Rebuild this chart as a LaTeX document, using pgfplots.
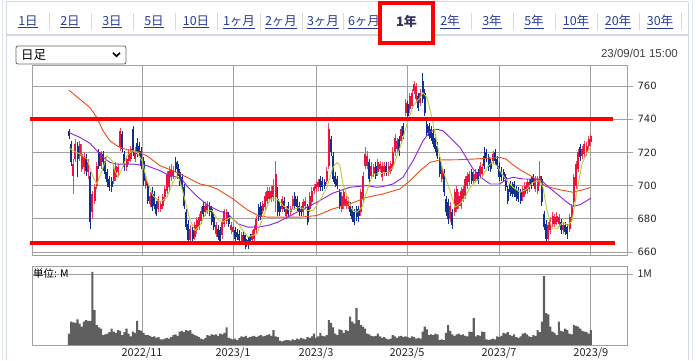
\documentclass[border=0pt]{standalone}
\usepackage{fontspec}
\setmainfont{Noto Sans CJK JP}
\newfontfamily\numfont{DejaVu Sans}
\newfontfamily\datefont{Liberation Sans}
\usepackage{pgfplots}
\usepackage{pgfplotstable}
\pgfplotsset{compat=1.18}
\definecolor{upc}{RGB}{232,22,62}
\definecolor{dnc}{RGB}{15,48,145}
\definecolor{maA}{RGB}{185,205,55}
\definecolor{maB}{RGB}{150,30,220}
\definecolor{maC}{RGB}{240,75,20}
\definecolor{gridc}{RGB}{160,160,160}
\definecolor{tabc}{RGB}{40,60,150}
\definecolor{volc}{RGB}{95,95,95}
\definecolor{panelc}{RGB}{210,216,228}

\pgfplotstableread{
i o h l c
0 733 734 728 730
1 725 727 712 714
2 706 716 695 713
3 716 728 714 725
4 724 726 705 716
5 718 727 715 725
6 710 725 708 719
7 711 720 707 718
8 717 719 706 709
9 708 716 704 714
10 706 708 674 678
11 684 697 680 695
12 691 701 689 699
13 700 714 698 712
14 720 722 710 712
15 712 721 710 720
16 719 721 709 714
17 715 717 704 707
18 708 710 699 702
19 704 706 697 699
20 703 705 696 699
21 703 712 701 710
22 705 714 703 712
23 708 713 706 711
24 723 735 721 733
25 731 733 720 722
26 719 721 709 711
27 711 718 709 716
28 715 722 713 720
29 716 724 714 722
30 734 736 718 720
31 716 723 714 721
32 726 729 717 719
33 724 726 718 720
34 721 723 710 712
35 715 717 700 703
36 700 706 698 704
37 700 702 689 691
38 689 696 687 694
39 697 699 685 687
40 695 697 686 688
41 689 691 682 683
42 686 694 684 692
43 686 691 684 689
44 688 695 686 693
45 693 700 691 698
46 697 709 695 707
47 699 712 697 709
48 705 713 703 710
49 706 712 704 709
50 714 717 708 710
51 713 715 704 706
52 708 710 700 702
53 705 707 697 699
54 699 701 686 688
55 684 686 673 675
56 677 679 665 667
57 667 676 665 674
58 673 675 666 668
59 669 678 667 676
60 673 681 671 679
61 675 683 673 681
62 679 687 677 685
63 688 691 681 683
64 684 690 682 688
65 685 691 683 689
66 688 690 682 684
67 686 688 676 678
68 681 683 673 675
69 671 678 669 676
70 674 676 667 669
71 673 675 664 666
72 670 680 668 678
73 677 686 675 685
74 679 686 677 684
75 682 684 675 677
76 673 678 671 676
77 672 677 670 675
78 673 675 666 668
79 672 674 667 669
80 671 673 665 667
81 666 672 664 670
82 670 672 664 666
83 668 670 662 663
84 667 669 662 664
85 669 671 664 666
86 667 673 665 671
87 668 676 666 674
88 673 682 671 680
89 687 689 679 681
90 688 690 679 681
91 685 691 683 689
92 687 696 685 694
93 691 699 689 697
94 692 699 690 697
95 692 700 690 697
96 693 704 691 700
97 693 715 684 707
98 692 699 682 684
99 688 690 682 684
100 686 694 684 692
101 691 693 684 686
102 682 688 680 686
103 688 690 681 683
104 684 688 682 686
105 688 694 686 692
106 694 696 686 688
107 692 694 685 687
108 688 690 682 684
109 686 688 682 684
110 684 692 682 690
111 688 693 686 691
112 687 689 676 678
113 686 696 684 694
114 690 699 688 697
115 697 701 695 699
116 698 703 696 701
117 699 704 697 702
118 704 706 697 699
119 703 705 697 699
120 702 704 698 700
121 703 711 701 709
122 712 738 710 734
123 728 730 718 720
124 718 720 702 704
125 706 708 699 701
126 704 706 698 700
127 696 698 686 688
128 686 696 684 694
129 688 698 686 696
130 688 694 686 692
131 688 693 686 691
132 688 690 682 684
133 686 688 678 680
134 684 686 676 678
135 686 688 679 681
136 686 688 678 682
137 684 698 682 696
138 692 708 690 706
139 712 723 710 719
140 712 721 710 718
141 714 716 702 704
142 706 714 704 712
143 707 713 705 711
144 712 714 704 706
145 708 716 706 714
146 710 715 708 713
147 705 714 703 712
148 708 714 706 712
149 712 714 706 708
150 708 714 706 712
151 709 715 707 713
152 712 723 710 720
153 720 731 718 729
154 722 729 720 727
155 728 730 718 720
156 727 736 725 734
157 736 738 728 730
158 744 752 742 750
159 749 751 740 742
160 746 756 744 754
161 748 758 746 756
162 757 763 755 761
163 752 762 750 760
164 754 756 745 747
165 750 758 748 756
166 763 768 750 752
167 756 758 742 744
168 737 739 730 732
169 736 738 728 730
170 734 736 727 729
171 732 734 723 725
172 729 731 720 722
173 724 726 716 718
174 715 717 705 707
175 704 712 702 710
176 708 710 694 696
177 692 694 682 684
178 690 692 677 680
179 680 690 678 688
180 684 686 674 676
181 684 698 682 696
182 686 700 684 698
183 688 696 686 694
184 688 699 686 697
185 692 700 690 698
186 694 706 692 704
187 700 708 698 706
188 702 709 700 707
189 708 710 701 703
190 703 709 701 707
191 704 710 702 708
192 708 710 701 703
193 706 714 704 712
194 707 713 705 711
195 718 723 710 712
196 720 722 714 716
197 717 719 709 711
198 714 716 708 710
199 715 721 713 719
200 720 722 713 715
201 716 718 710 712
202 712 714 703 705
203 709 711 703 705
204 708 710 702 704
205 705 707 697 699
206 698 700 689 691
207 701 703 694 696
208 700 702 693 695
209 701 703 693 695
210 698 700 691 693
211 697 699 690 692
212 696 698 689 691
213 693 700 691 698
214 695 702 693 700
215 697 704 695 702
216 698 704 696 702
217 704 706 698 700
218 705 707 700 702
219 698 706 696 704
220 697 706 695 704
221 702 715 700 706
222 704 706 688 690
223 683 685 673 675
224 677 679 665 668
225 668 678 666 676
226 673 681 671 679
227 677 684 675 682
228 677 683 675 681
229 678 684 676 682
230 677 683 675 681
231 678 680 671 673
232 673 678 671 676
233 676 678 670 672
234 675 677 668 671
235 674 683 672 681
236 681 689 679 687
237 690 707 688 705
238 700 715 698 713
239 710 722 708 720
240 723 725 715 717
241 718 724 716 722
242 719 727 717 725
243 720 726 718 724
244 724 730 722 728
245 726 731 724 730
}\candles

\pgfplotstableread{
i v
0 757.5
5.2 752
9.9 747
13.1 741
16.0 733
19.2 727
23.0 723.6
27.2 721.6
31.9 720.6
36.6 718
42.7 712
48.8 709
55.4 705
61.5 701
65.3 700
69.5 698
71.4 696.5
77.0 692
83.6 685.5
88.7 682
93.4 681
100.5 681
108.5 681
116.4 682
123.9 686
131.9 689
139.9 693
147.4 695
155.4 698
160.1 703
164.8 709
169.5 714
174.2 715.5
182.2 715.6
189.7 716
197.7 716.6
202.3 717
205.2 716
208.0 713
211.3 710
219.2 704
224.0 699.5
230.5 697.5
236.6 696
241.3 697.5
245 699
}\maslow

\pgfplotstableread{
i v
0 732
5.2 729
9.9 725.5
13.1 721
16.0 717
19.2 714
22.5 713
30.0 713
36.6 712
42.7 709
46.5 706.5
52.6 704.5
55.9 699
60.6 693
65.3 688
70.0 685
74.6 683
79.3 677
84.0 675
88.7 675
93.4 676
98.1 678
100.5 679.6
108.5 685
116.4 690
123.9 695.5
131.9 699
139.9 700
144.6 699
147.4 699.5
152.1 701
156.8 705
161.5 715
166.2 727
169.5 732.5
172.8 734
175.6 733
178.9 729
183.6 723
186.9 716
189.7 710
194.4 704
197.7 701
202.3 701
205.6 704
208.5 705
213.1 704
217.8 704
221.1 704
224.4 700
229.1 695
233.8 690
236.6 687.5
239.9 688.5
243.2 691
245 692.5
}\mamid

\pgfplotstableread{
i v
0 723
1.9 721
5.2 719
8.5 716
11.3 705
13.1 701
15.5 709
17.8 718
20.2 715
21.6 709
23.0 705
24.9 710
27.2 718
29.6 721
31.9 720
34.3 715
36.6 703
39.4 694
42.7 690
46.0 693
48.8 702
50.7 706
52.1 703
54.5 691
56.8 679
59.2 673
61.5 676
64.8 685
67.1 685
69.5 680
72.3 678
75.6 681
78.9 678
81.7 673
84.0 669
86.4 670
88.3 671
91.1 681
94.4 692
97.7 692
100.5 688
103.8 685
108.5 687
111.7 685
114.6 685
117.8 691
121.1 699
123.9 711
125.8 714
127.2 712
128.6 701
131.9 689
133.3 685
135.2 684
137.6 687
139.9 697
142.7 707
146.0 707
149.3 708
152.1 711
155.4 723
158.7 737
161.5 748
164.8 753
166.2 756
168.1 753
170.4 741
172.8 725
175.6 709
178.9 697
181.2 687
183.6 689
185.9 693
188.3 699
191.5 703
193.9 705
196.2 711
198.6 714
200.9 712
203.3 707
205.6 703
208.5 699
211.7 696
215.0 698
217.8 702
221.1 703
222.5 699
224.4 685
226.8 674
229.1 674
231.9 678
234.3 676
236.2 679
238.5 697
240.8 713
243.2 720
245 723
}\mafast

\pgfplotstableread{
i v
0 0.16
1 0.33
2 0.32
3 0.31
4 0.36
5 0.30
6 0.26
7 0.33
8 0.35
9 0.34
10 0.34
11 1.03
12 0.49
13 0.28
14 0.25
15 0.23
16 0.14
17 0.15
18 0.16
19 0.18
20 0.23
21 0.19
22 0.17
23 0.21
24 0.20
25 0.14
26 0.18
27 0.23
28 0.16
29 0.12
30 0.19
31 0.17
32 0.34
33 0.21
34 0.20
35 0.17
36 0.14
37 0.14
38 0.13
39 0.11
40 0.12
41 0.10
42 0.11
43 0.08
44 0.08
45 0.09
46 0.10
47 0.09
48 0.11
49 0.14
50 0.15
51 0.13
52 0.19
53 0.20
54 0.18
55 0.21
56 0.20
57 0.21
58 0.16
59 0.14
60 0.13
61 0.11
62 0.09
63 0.08
64 0.10
65 0.14
66 0.13
67 0.15
68 0.14
69 0.15
70 0.13
71 0.16
72 0.15
73 0.17
74 0.25
75 0.10
76 0.09
77 0.08
78 0.09
79 0.07
80 0.10
81 0.12
82 0.11
83 0.13
84 0.10
85 0.11
86 0.12
87 0.13
88 0.11
89 0.13
90 0.14
91 0.12
92 0.13
93 0.14
94 0.15
95 0.13
96 0.21
97 0.12
98 0.11
99 0.06
100 0.05
101 0.06
102 0.07
103 0.07
104 0.06
105 0.08
106 0.07
107 0.09
108 0.08
109 0.10
110 0.09
111 0.08
112 0.11
113 0.10
114 0.12
115 0.16
116 0.10
117 0.12
118 0.17
119 0.13
120 0.12
121 0.14
122 0.35
123 0.31
124 0.25
125 0.16
126 0.14
127 0.22
128 0.21
129 0.17
130 0.21
131 0.20
132 0.40
133 0.33
134 0.30
135 0.52
136 0.35
137 0.28
138 0.26
139 0.23
140 0.16
141 0.15
142 0.13
143 0.12
144 0.13
145 0.16
146 0.12
147 0.10
148 0.11
149 0.09
150 0.08
151 0.09
152 0.14
153 0.12
154 0.10
155 0.12
156 0.13
157 0.11
158 0.12
159 0.11
160 0.10
161 0.12
162 0.11
163 0.09
164 0.10
165 0.09
166 0.19
167 0.26
168 0.22
169 0.14
170 0.15
171 0.14
172 0.16
173 0.15
174 0.07
175 0.08
176 0.07
177 0.17
178 0.28
179 0.20
180 0.15
181 0.13
182 0.15
183 0.16
184 0.14
185 0.15
186 0.13
187 0.12
188 0.19
189 0.18
190 0.38
191 0.12
192 0.14
193 0.13
194 0.19
195 0.18
196 0.08
197 0.07
198 0.08
199 0.09
200 0.08
201 0.12
202 0.11
203 0.13
204 0.17
205 0.16
206 0.18
207 0.14
208 0.13
209 0.15
210 0.11
211 0.10
212 0.12
213 0.16
214 0.17
215 0.15
216 0.12
217 0.11
218 0.14
219 0.13
220 0.21
221 0.18
222 0.33
223 0.97
224 0.45
225 0.43
226 0.26
227 0.19
228 0.17
229 0.14
230 0.33
231 0.20
232 0.19
233 0.23
234 0.21
235 0.16
236 0.15
237 0.28
238 0.27
239 0.26
240 0.23
241 0.20
242 0.19
243 0.18
244 0.16
245 0.21
}\volume

\begin{document}
\begin{tikzpicture}[x=1pt,y=1pt]
\useasboundingbox (0,0) rectangle (698,360);
\fill[white] (0,0) rectangle (698,360);
% outer frame
\draw[panelc!70, line width=1pt] (2.5,0) -- (2.5,360);
\draw[panelc!70, line width=1pt] (692.5,0) -- (692.5,360);
% tab bar
\draw[panelc, line width=0.8pt] (6,358.5) -- (688,358.5);
\draw[panelc, line width=1pt] (6,0) -- (6,358.5);
\draw[panelc, line width=1pt] (688.5,0) -- (688.5,358.5);
\draw[panelc, line width=1.2pt] (6,325) -- (688.5,325);
\foreach \sx in {49,91,133,175,217.5,260,302,343.5,471,513,555,597,639,681}
  \draw[gray!30, line width=0.8pt] (\sx,330) -- (\sx,347);
\foreach \tx/\tl in {28/1日,70/2日,112/3日,154/5日,196/10日,239/1ヶ月,281/2ヶ月,323/3ヶ月,364/6ヶ月,450/2年,492/3年,534/5年,576/10年,618/20年,660/30年}
  \node[text=tabc, font=\fontsize{12.5}{14}\selectfont, inner sep=0pt] at (\tx,338) {\underline{\tl}};
\fill[white] (381,318) rectangle (432,356);
\node[text={rgb,255:red,50;green,50;blue,90}, font=\bfseries\fontsize{13}{15}\selectfont, inner sep=0pt] at (406.5,338.5) {1年};
\draw[red, line width=3.5pt] (380,317) rectangle (433,357);
% dropdown
\draw[rounded corners=2pt, black!60, line width=0.8pt] (16,296) rectangle (126,314);
\node[anchor=west, font=\fontsize{12.5}{14}\selectfont, inner sep=0pt] at (21,305) {日足};
\draw[line width=1.6pt] (113,307.2) -- (116.5,303.7) -- (120,307.2);
% timestamp
\node[anchor=east, font=\datefont\fontsize{11.5}{13}\selectfont, text=black!75, inner sep=0pt] at (678,307) {23/09/01 15:00};

% price chart
\begin{axis}[
  at={(32pt,105pt)}, anchor=south west,
  scale only axis, width=595pt, height=190pt,
  xmin=-17.37, xmax=261.97, ymin=658.2, ymax=772.7,
  axis line style={gridc, line width=0.8pt},
  xtick={34.3,77,116,158.7,201.9,245}, xticklabels={},
  xtick style={draw=none},
  xmajorgrids, ymajorgrids,
  grid style={gridc, line width=0.8pt},
  ytick={660,680,700,720,740,760},
  ytick pos=right, yticklabel pos=right,
  ytick style={gridc, line width=0.8pt},
  major tick length=6pt, tick align=outside,
  y tick label style={font=\numfont\fontsize{10}{12}\selectfont, text=black!85, xshift=1pt},
  /pgf/number format/assume math mode=true,
  clip=false,
]
% wicks
\addplot[draw=none, mark=none, restrict expr to domain={\thisrow{c}-\thisrow{o}}{0:1000},
  error bars/.cd, y dir=both, y explicit, error mark=none,
  error bar style={draw=upc!80, line width=0.75pt}]
  table[x=i, y expr={(\thisrow{h}+\thisrow{l})/2}, y error expr={(\thisrow{h}-\thisrow{l})/2}] \candles;
\addplot[draw=none, mark=none, restrict expr to domain={\thisrow{o}-\thisrow{c}}{0.001:1000},
  error bars/.cd, y dir=both, y explicit, error mark=none,
  error bar style={draw=dnc, line width=0.75pt}]
  table[x=i, y expr={(\thisrow{h}+\thisrow{l})/2}, y error expr={(\thisrow{h}-\thisrow{l})/2}] \candles;
% bodies
\addplot[draw=none, mark=none, restrict expr to domain={\thisrow{c}-\thisrow{o}}{0:1000},
  error bars/.cd, y dir=both, y explicit, error mark=none,
  error bar style={draw=upc, line width=2pt, line cap=butt}]
  table[x=i, y expr={(\thisrow{o}+\thisrow{c})/2}, y error expr={max(abs(\thisrow{c}-\thisrow{o})/2,0.4)}] \candles;
\addplot[draw=none, mark=none, restrict expr to domain={\thisrow{o}-\thisrow{c}}{0.001:1000},
  error bars/.cd, y dir=both, y explicit, error mark=none,
  error bar style={draw=dnc, line width=2pt, line cap=butt}]
  table[x=i, y expr={(\thisrow{o}+\thisrow{c})/2}, y error expr={max(abs(\thisrow{c}-\thisrow{o})/2,0.4)}] \candles;
% moving averages
\addplot[maC, line width=0.9pt, mark=none] table[x=i, y=v] \maslow;
\addplot[maB, line width=0.9pt, mark=none] table[x=i, y=v] \mamid;
\addplot[maA, line width=0.9pt, mark=none] table[x=i, y=v] \mafast;
% support / resistance lines
\addplot[red, line width=3.8pt, mark=none] coordinates {(-18.3,740) (255.4,740)};
\addplot[red, line width=3.8pt, mark=none] coordinates {(-18.3,665.5) (256.3,665.5)};
\end{axis}

% volume chart
\begin{axis}[
  at={(32pt,15pt)}, anchor=south west,
  scale only axis, width=595pt, height=79pt,
  xmin=-17.37, xmax=261.97, ymin=0, ymax=1.1127,
  axis line style={gridc, line width=0.8pt},
  xtick={34.3,77,116,158.7,201.9,245},
  xticklabels={2022/11,2023/1,2023/3,2023/5,2023/7,2023/9},
  xtick style={draw=none},
  x tick label style={font=\fontsize{11}{13}\selectfont, text=black!85, anchor=base, yshift=-5pt, inner sep=0pt},
  xmajorgrids, ymajorgrids,
  grid style={gridc, line width=0.8pt},
  ytick={1}, yticklabels={1M},
  ytick pos=right, yticklabel pos=right,
  ytick style={gridc, line width=0.8pt},
  major tick length=6pt, tick align=outside,
  y tick label style={font=\fontsize{10.5}{12}\selectfont, text=black!85, xshift=1pt},
  ybar, bar width=1, bar shift=0pt,
]
\addplot[fill=volc, draw=none] table[x=i, y=v] \volume;
\end{axis}
\node[anchor=west, font=\fontsize{10.5}{12}\selectfont, inner sep=0pt] at (33,86) {単位: M};
\end{tikzpicture}
\end{document}
